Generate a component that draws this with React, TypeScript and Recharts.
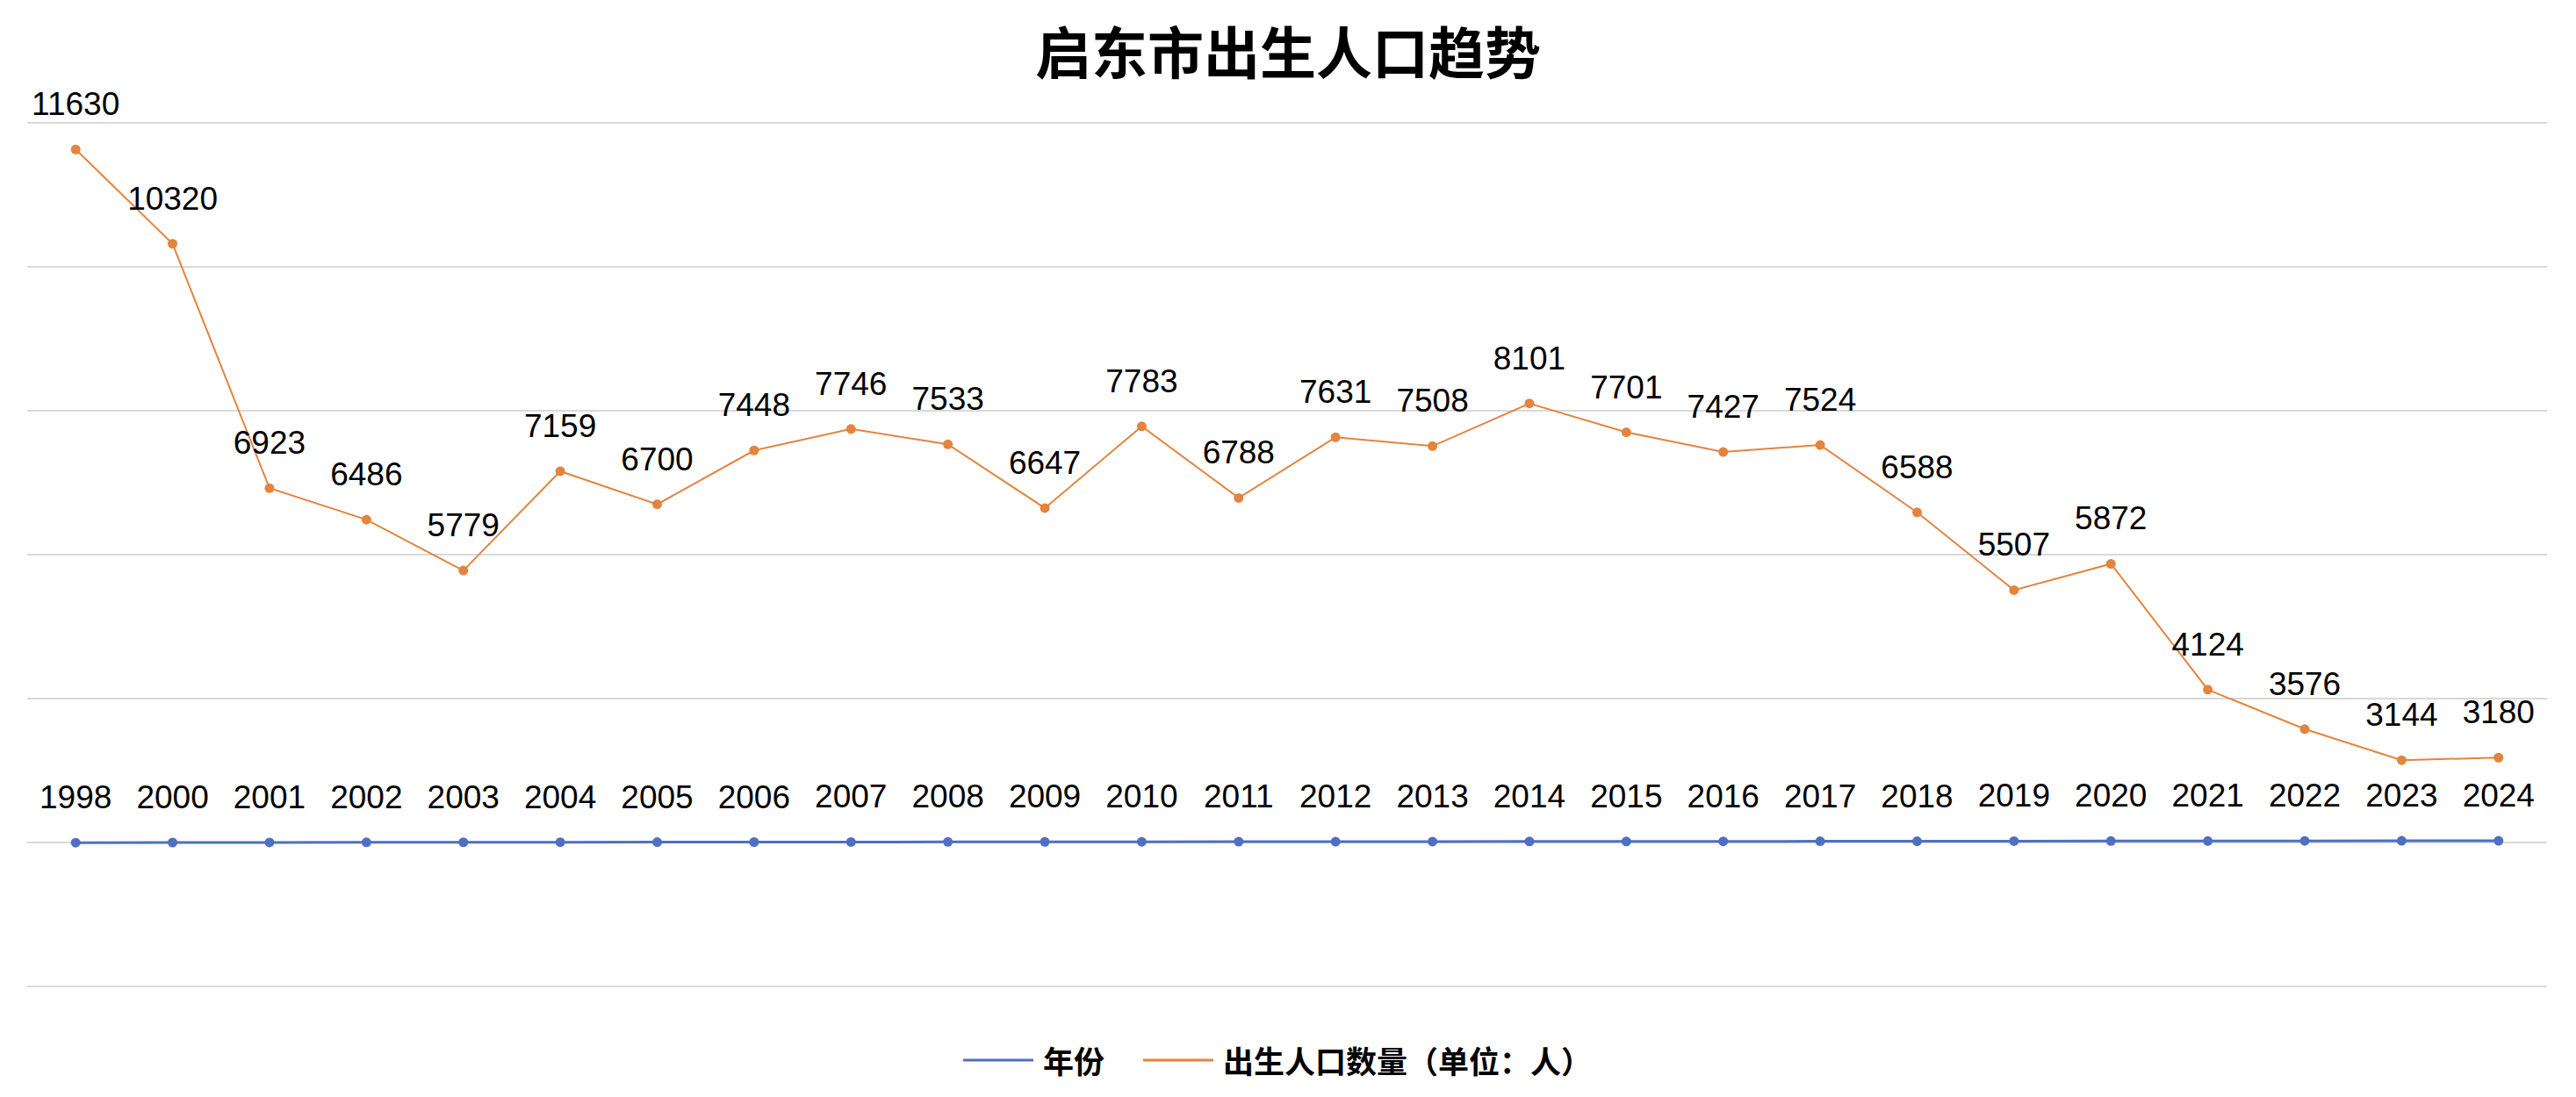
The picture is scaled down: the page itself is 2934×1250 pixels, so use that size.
import { LineChart, Line, XAxis, YAxis, CartesianGrid, Legend, LabelList } from 'recharts'

// 年份 is plotted as its own series, the way the source spreadsheet did it
const years = [
  1998, 2000, 2001, 2002, 2003, 2004, 2005, 2006, 2007, 2008, 2009, 2010, 2011,
  2012, 2013, 2014, 2015, 2016, 2017, 2018, 2019, 2020, 2021, 2022, 2023, 2024,
]
const births = [
  11630, 10320, 6923, 6486, 5779, 7159, 6700, 7448, 7746, 7533, 6647, 7783, 6788,
  7631, 7508, 8101, 7701, 7427, 7524, 6588, 5507, 5872, 4124, 3576, 3144, 3180,
]
const yTicks = [0, 2000, 4000, 6000, 8000, 10000, 12000]
const seriesNames = ['年份', '出生人口数量（单位：人）']

const BLUE = '#4f6fc2'
const ORANGE = '#e3843f'
const FONT = '"Liberation Sans", "Noto Sans CJK SC", sans-serif'
const CJK = '"Noto Sans CJK SC", "Liberation Sans", sans-serif'

const data = years.map((y, i) => ({ idx: i, year: y, births: births[i] }))

function renderLegend(props: any) {
  const payload = [...(props.payload || [])].sort(
    (a: any, b: any) => seriesNames.indexOf(a.value) - seriesNames.indexOf(b.value),
  )
  return (
    <div style={{ display: 'flex', justifyContent: 'center', alignItems: 'center', gap: 44 }}>
      {payload.map((p: any) => (
        <div key={p.value} style={{ display: 'flex', alignItems: 'center', gap: 11 }}>
          <svg width={80} height={6}>
            <line x1={0} y1={3} x2={80} y2={3} stroke={p.color} strokeWidth={3} />
          </svg>
          <span style={{ fontFamily: CJK, fontSize: 35, fontWeight: 700, color: '#000', lineHeight: '40px' }}>
            {p.value}
          </span>
        </div>
      ))}
    </div>
  )
}

export default function App() {
  return (
    <div style={{ position: 'absolute', left: 0, top: 0, width: 2934, height: 1250, background: '#fff' }}>
      <div
        style={{
          position: 'absolute',
          top: 24,
          left: 0,
          width: 2934,
          textAlign: 'center',
          fontFamily: CJK,
          fontWeight: 700,
          fontSize: 64,
          lineHeight: '64px',
          color: '#000',
        }}
      >
        启东市出生人口趋势
      </div>
      <LineChart width={2934} height={1250} data={data} margin={{ top: 140, right: 33, bottom: 126, left: 31 }}>
        <CartesianGrid vertical={false} stroke="#d9d9d9" strokeWidth={2} />
        <XAxis dataKey="idx" type="number" domain={[-0.5, years.length - 0.5]} hide />
        <YAxis domain={[0, 12000]} ticks={yTicks} hide />
        <Legend
          layout="horizontal"
          verticalAlign="middle"
          align="center"
          content={renderLegend}
          wrapperStyle={{ top: 1188, left: 0, width: 2910 }}
        />
        <Line
          name={seriesNames[0]}
          dataKey="year"
          stroke={BLUE}
          strokeWidth={3}
          dot={{ r: 5.5, fill: BLUE, stroke: BLUE, strokeWidth: 0 }}
          activeDot={false}
          isAnimationActive={false}
        >
          <LabelList dataKey="year" position="top" offset={39} fill="#000" fontSize={37} fontFamily={FONT} />
        </Line>
        <Line
          name={seriesNames[1]}
          dataKey="births"
          stroke={ORANGE}
          strokeWidth={2}
          dot={{ r: 5.5, fill: ORANGE, stroke: ORANGE, strokeWidth: 0 }}
          activeDot={false}
          isAnimationActive={false}
        >
          <LabelList dataKey="births" position="top" offset={39} fill="#000" fontSize={37} fontFamily={FONT} />
        </Line>
      </LineChart>
    </div>
  )
}
